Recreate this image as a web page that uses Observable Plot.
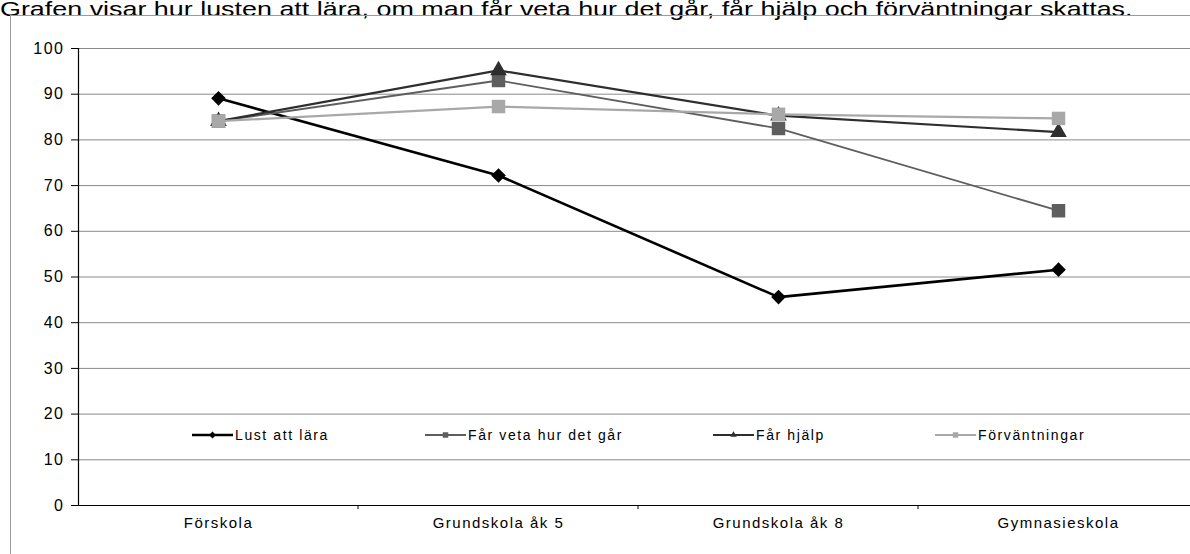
<!DOCTYPE html>
<html>
<head>
<meta charset="utf-8">
<script src="https://cdn.jsdelivr.net/npm/d3@7"></script>
<script src="https://cdn.jsdelivr.net/npm/@observablehq/plot@0.6"></script>
<style>
  html, body { margin: 0; padding: 0; background: #fff; overflow: hidden; width: 1190px; height: 554px; }
  body { position: relative; font-family: "Liberation Sans", Arial, sans-serif; }
  #title { position: absolute; left: 0; top: -3px; font-size: 21px; color: #000; white-space: nowrap; transform: scaleX(1.28); transform-origin: 0 0; }
  #frame { position: absolute; left: 10px; top: 15px; width: 1300px; height: 700px; border: 1px solid #9a9a9a; box-sizing: border-box; }
  #chart { position: absolute; left: 0; top: 0; }
  #chart svg { max-width: none !important; }
  #legend { position: absolute; top: 426px; left: 0; font-size: 14px; height: 18px; }
  .item { position: absolute; top: 0; display: flex; align-items: center; white-space: nowrap; }
  .item span { letter-spacing: 1.6px; }
  .item svg { display: block; }
</style>
</head>
<body>
<div id="title">Grafen visar hur lusten att lära, om man får veta hur det går, får hjälp och förväntningar skattas.</div>
<div id="frame"></div>
<div id="chart"></div>
<div id="legend"></div>
<script>
const categories = ["Förskola", "Grundskola åk 5", "Grundskola åk 8", "Gymnasieskola"];
const seriesNames = ["Lust att lära", "Får veta hur det går", "Får hjälp", "Förväntningar"];
const lustAttLara = [89.1, 72.2, 45.6, 51.6];
const farVeta = [84.1, 93.0, 82.5, 64.5];
const farHjalp = [84.1, 95.2, 85.3, 81.7];
const forvantningar = [84.1, 87.3, 85.6, 84.7];
const yTicks = [0, 10, 20, 30, 40, 50, 60, 70, 80, 90, 100];

const seriesValues = [lustAttLara, farVeta, farHjalp, forvantningar];
const styles = {
  "Lust att lära":        {stroke: "#000000", width: 2.6, symbol: "diamond2", r: 6.6, fill: "#000000"},
  "Får veta hur det går": {stroke: "#5e5e5e", width: 1.8, symbol: "square",   r: 7.6, fill: "#5e5e5e"},
  "Får hjälp":            {stroke: "#2e2e2e", width: 2.2, symbol: "triangle", r: 6.2, fill: "#2e2e2e"},
  "Förväntningar":        {stroke: "#a8a8a8", width: 2.2, symbol: "square",   r: 7.6, fill: "#a8a8a8"}
};

const data = [];
seriesNames.forEach((s, i) => {
  categories.forEach((c, j) => data.push({series: s, cat: c, value: seriesValues[i][j]}));
});

const marks = [
  Plot.ruleY(yTicks.filter(d => d > 0), {stroke: "#8a8a8a", strokeWidth: 1}),
  Plot.axisY(yTicks, {tickSize: 7, tickPadding: 7, fontSize: 16, tickFormat: d => d, stroke: "#000", fill: "#000"}),
  Plot.axisX({tickSize: 0, tickPadding: 12, fontSize: 15, fill: "#000"}),
  Plot.ruleY([0], {stroke: "#000", strokeWidth: 1}),
];
// y-axis line
marks.push(Plot.ruleX([categories[0]], {x: () => categories[0], y1: 0, y2: 100, stroke: "#000", strokeWidth: 1.2, dx: -140}));

seriesNames.forEach(s => {
  const st = styles[s];
  const d = data.filter(e => e.series === s);
  marks.push(Plot.line(d, {x: "cat", y: "value", stroke: st.stroke, strokeWidth: st.width}));
  marks.push(Plot.dot(d, {x: "cat", y: "value", symbol: () => st.symbol, r: st.r, fill: st.fill, stroke: "none"}));
});

const chart = Plot.plot({
  width: 1210,
  height: 554,
  marginLeft: 78,
  marginRight: 12,
  marginTop: 48,
  marginBottom: 49,
  style: {background: "transparent", fontFamily: "'Liberation Sans', Arial, sans-serif", color: "#000", maxWidth: "none"},
  x: {type: "point", domain: categories, padding: 0.5, label: null},
  y: {domain: [0, 100], label: null},
  symbol: {type: "identity"},
  marks
});
document.getElementById("chart").appendChild(chart);

const svg = d3.select(chart);
svg.selectAll("[aria-label='y-axis tick label'] text").style("letter-spacing", "1.5px");
svg.selectAll("[aria-label='x-axis tick label'] text").style("letter-spacing", "1.5px");

// x-axis category boundary ticks (below axis)
const xs = chart.scale("x");
const ys = chart.scale("y");
const step = xs.apply(categories[1]) - xs.apply(categories[0]);
const g = svg.append("g");
categories.slice(1).forEach(c => {
  const px = xs.apply(c) - step / 2;
  g.append("line").attr("x1", px).attr("x2", px).attr("y1", ys.apply(0)).attr("y2", ys.apply(0) + 4).attr("stroke", "#000");
});

// Legend
const legendX = [192, 425, 713, 935];
const legend = d3.select("#legend");
seriesNames.forEach((s, i) => {
  const st = styles[s];
  const item = legend.append("div").attr("class", "item").style("left", legendX[i] + "px");
  const sw = item.append("svg").attr("width", 42).attr("height", 18);
  sw.append("line").attr("x1", 0).attr("x2", 41).attr("y1", 9).attr("y2", 9).attr("stroke", st.stroke).attr("stroke-width", st.width);
  const sym = {diamond2: d3.symbolDiamond2, square: d3.symbolSquare, triangle: d3.symbolTriangle2}[st.symbol];
  sw.append("path").attr("d", d3.symbol(sym, 30)()).attr("transform", "translate(20.5,9)").attr("fill", st.fill);
  item.append("span").text(s).style("margin-left", "1px");
});
</script>
</body>
</html>
